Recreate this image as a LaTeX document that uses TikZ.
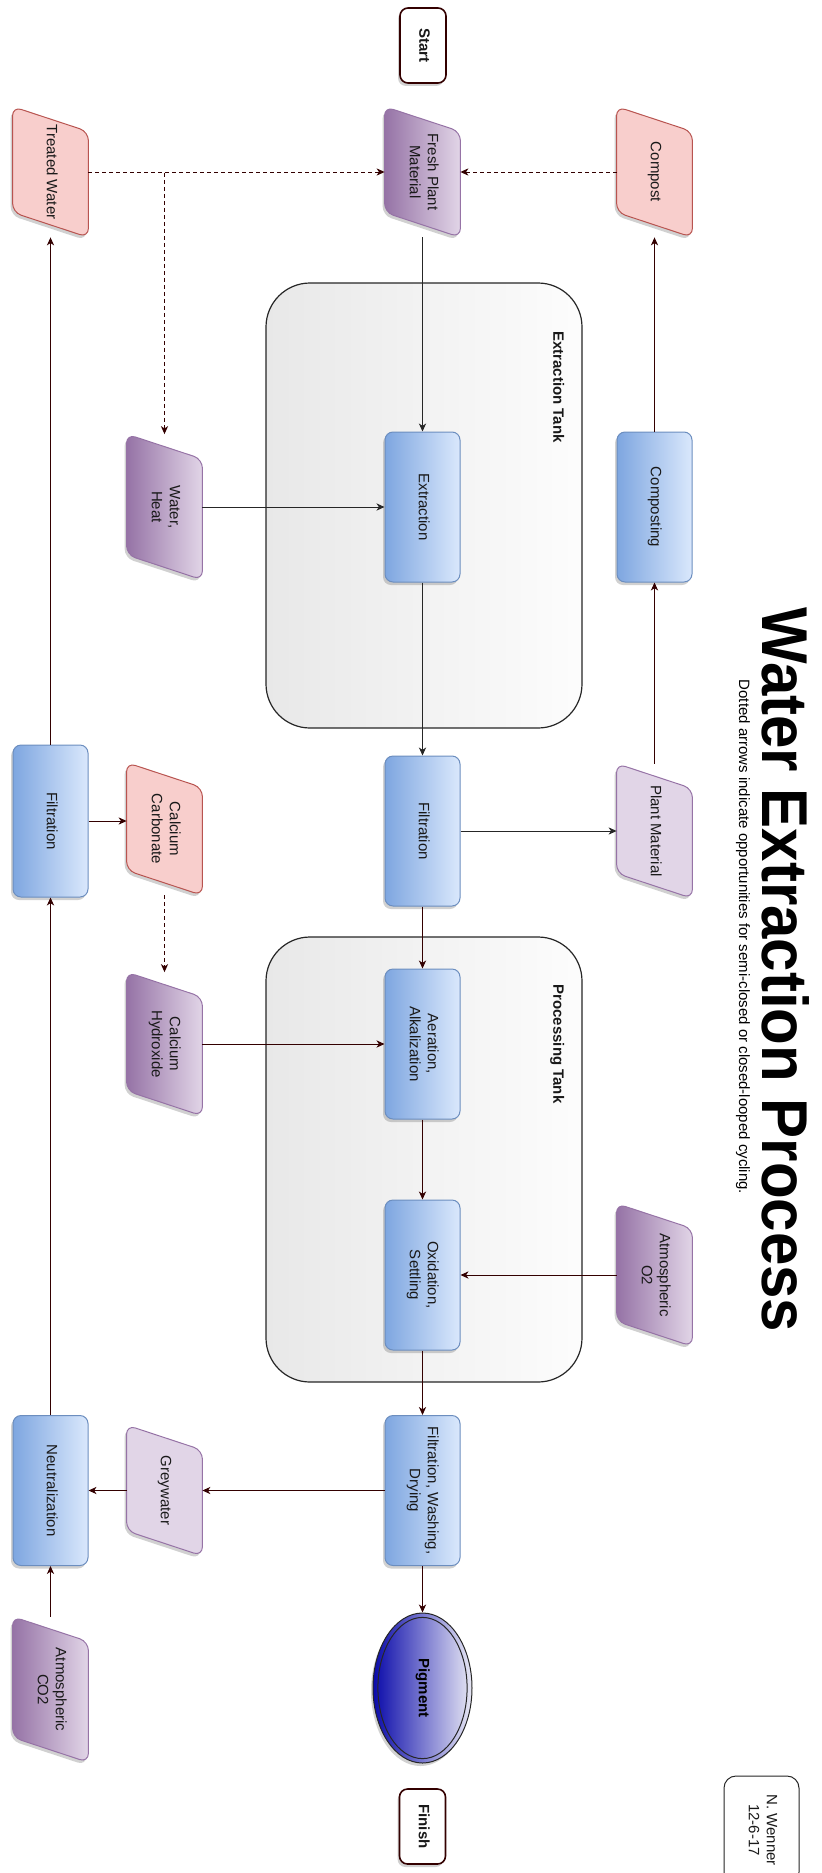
\documentclass[tikz,border=0pt]{standalone}
\usepackage{fontspec}
\setmainfont{Liberation Sans}
\usepackage{graphicx}
\usetikzlibrary{arrows.meta,shadows,shapes.geometric,calc}
\pgfdeclarelayer{tanks}
\pgfdeclarelayer{shapes}
\pgfsetlayers{tanks,shapes,main}
\definecolor{bluedark}{HTML}{7EA6E0}
\definecolor{bluelight}{HTML}{DAE8FC}
\definecolor{blueline}{HTML}{6C8EBF}
\definecolor{purpdark}{HTML}{9673A6}
\definecolor{purplight}{HTML}{E1D5E7}
\definecolor{pinkfill}{HTML}{F8CECC}
\definecolor{pinkline}{HTML}{B85450}
\definecolor{maroondk}{HTML}{330000}
\definecolor{pigdark}{HTML}{0A0AAA}
\definecolor{piglight}{HTML}{E8E8F4}
\newcommand\rt[1]{\rotatebox{-90}{\begin{tabular}{@{}c@{}}#1\end{tabular}}}
\newcommand\pgpath[2]{%
  \begin{pgfonlayer}{shapes}
  \path[#2] (#1.north west) -- ([yshift=-12.5pt]#1.north east) -- (#1.south east) -- ([yshift=12.5pt]#1.south west) -- cycle;
  \end{pgfonlayer}}
\tikzset{
  shd/.style={drop shadow={shadow xshift=-1pt, shadow yshift=-1.5pt, opacity=0.3, fill=black!60}},
  lbl/.style={font=\fontsize{7.5}{9}\selectfont, text=black!90, inner sep=0pt},
  proc/.style={lbl, draw=blueline, line width=0.5pt, rounded corners=4pt, left color=bluedark, right color=bluelight, minimum width=37.5pt, minimum height=75pt, shd},
  pgbox/.style={lbl, minimum width=37.5pt},
  pgpurple/.style={draw=purpdark, line width=0.5pt, left color=purpdark, right color=purplight, rounded corners=4.5pt, shd},
  pglight/.style={draw=purpdark, line width=0.5pt, fill=purplight, rounded corners=4.5pt, shd},
  pgpink/.style={draw=pinkline, line width=0.5pt, fill=pinkfill, rounded corners=4.5pt, shd},
  term/.style={lbl, font={\fontsize{7.5}{9}\selectfont\bfseries}, draw=maroondk, line width=0.8pt, fill=white, rounded corners=4pt, minimum width=23pt, minimum height=37.5pt, shd},
  tank/.style={draw=black!85, line width=0.6pt, rounded corners=22pt, left color=black!9, right color=black!1, inner sep=0pt},
  flow/.style={draw=maroondk, line width=0.5pt, -{Stealth[length=4pt,width=3.6pt,inset=1.2pt]}},
  flowk/.style={flow, draw=black!85},
  dflow/.style={flow, dash pattern=on 2pt off 1.5pt},
}
\begin{document}
\begin{tikzpicture}[x=0.5pt, y=-0.5pt]
\useasboundingbox (0,0) rectangle (822,1873);

% tanks
\begin{pgfonlayer}{tanks}
\node[tank, minimum width=158pt, minimum height=222.5pt] (tank1) at (424,505.5) {};
\node[tank, minimum width=158pt, minimum height=222.5pt] (tank2) at (424,1159.5) {};
\end{pgfonlayer}
\node[lbl, font={\fontsize{7.5}{9}\selectfont\bfseries}] (tank1lbl) at (557,387) {\rt{Extraction Tank}};
\node[lbl, font={\fontsize{7.5}{9}\selectfont\bfseries}] (tank2lbl) at (557,1044) {\rt{Processing Tank}};

% title
\node[inner sep=0pt, font={\fontsize{30}{32}\selectfont\bfseries}] (title) at (785.5,970) {\rotatebox{-90}{\scalebox{1}[1.08]{Water Extraction Process}}};
\node[inner sep=0pt, font={\fontsize{7.5}{9}\selectfont}] (subtitle) at (743,937) {\rotatebox{-90}{Dotted arrows indicate opportunities for semi-closed or closed-looped cycling.}};

% terminals
\node[term] (start) at (423,45.5) {\rt{Start}};
\node[term] (finish) at (422.5,1826.5) {\rt{Finish}};
\node[lbl, draw=black!85, line width=0.5pt, fill=white, rounded corners=6pt, minimum width=37.5pt, minimum height=54pt] (sig) at (761.5,1830) {\rt{N. Wenner\\12-6-17}};

% main column
\node[pgbox, minimum height=65pt] (fpm) at (422.5,172) {\rt{Fresh Plant\\Material}};
\pgpath{fpm}{pgpurple}
\node[proc] (ext) at (422.5,507) {\rt{Extraction}};
\node[proc] (filt) at (422.5,831) {\rt{Filtration}};
\node[proc] (aer) at (422.5,1044) {\rt{Aeration,\\Alkalization}};
\node[proc] (oxi) at (422.5,1275) {\rt{Oxidation,\\Settling}};
\node[proc] (fwd) at (422.5,1490.5) {\rt{Filtration, Washing,\\Drying}};
\node[ellipse, draw=black!85, line width=0.5pt, left color=pigdark, right color=piglight, minimum width=49.5pt, minimum height=75pt, inner sep=0pt, font={\fontsize{7.5}{9}\selectfont\bfseries}, shd] (pig) at (422.5,1688) {\rt{Pigment}};
\draw[black!85, line width=0.5pt] (pig.center) ellipse [x radius=22.3pt, y radius=35.3pt];

% left column
\node[pgbox, minimum height=65pt] (tw) at (50.5,172) {\rt{Treated Water}};
\pgpath{tw}{pgpink}
\node[proc, minimum height=76pt] (filtl) at (50.5,821) {\rt{Filtration}};
\node[proc] (neut) at (50.5,1490.5) {\rt{Neutralization}};
\node[pgbox, minimum height=72.5pt] (co2) at (50.5,1689.5) {\rt{Atmospheric\\CO2}};
\pgpath{co2}{pgpurple}

% second column
\node[pgbox, minimum height=72.5pt] (wh) at (164.5,507) {\rt{Water,\\Heat}};
\pgpath{wh}{pgpurple}
\node[pgbox, minimum height=66pt] (cc) at (164.5,829) {\rt{Calcium\\Carbonate}};
\pgpath{cc}{pgpink}
\node[pgbox, minimum height=71.5pt] (ch) at (164.5,1044) {\rt{Calcium\\Hydroxide}};
\pgpath{ch}{pgpurple}
\node[pgbox, minimum height=65pt] (grey) at (164.5,1490.5) {\rt{Greywater}};
\pgpath{grey}{pglight}

% right column
\node[pgbox, minimum height=65pt] (comp) at (654.5,172) {\rt{Compost}};
\pgpath{comp}{pgpink}
\node[proc] (cmpg) at (654.5,507) {\rt{Composting}};
\node[pgbox, minimum height=67pt] (pm) at (654.5,831) {\rt{Plant Material}};
\pgpath{pm}{pglight}
\node[pgbox, minimum height=71pt] (o2) at (654.5,1275) {\rt{Atmospheric\\O2}};
\pgpath{o2}{pgpurple}

% connectors
\draw[flowk] (fpm.south) -- (ext.north);
\draw[dflow] (tw.east) -- (fpm.west);
\draw[dflow] (comp.west) -- (fpm.east);
\draw[dflow] (tw.east) -| (wh.north);
\draw[flowk] (wh.east) -- (ext.west);
\draw[flowk] (ext.south) -- (filt.north);
\draw[flowk] (filt.east) -- (pm.west);
\draw[flow] (pm.north) -- (cmpg.south);
\draw[flow] (cmpg.north) -- (comp.south);
\draw[flow] (filt.south) -- (aer.north);
\draw[flow] (ch.east) -- (aer.west);
\draw[flow] (aer.south) -- (oxi.north);
\draw[flow] (o2.west) -- (oxi.east);
\draw[flow] (oxi.south) -- (fwd.north);
\draw[flow] (fwd.west) -- (grey.east);
\draw[flow] (grey.west) -- (neut.east);
\draw[flow] (fwd.south) -- (pig.north);
\draw[flow] (co2.north) -- (neut.south);
\draw[flow] (neut.north) -- (filtl.south);
\draw[flow] (filtl.north) -- (tw.south);
\draw[flow] (filtl.east) -- (filtl.east -| cc.west);
\draw[dflow] (cc.south) -- (ch.north);
\end{tikzpicture}
\end{document}
